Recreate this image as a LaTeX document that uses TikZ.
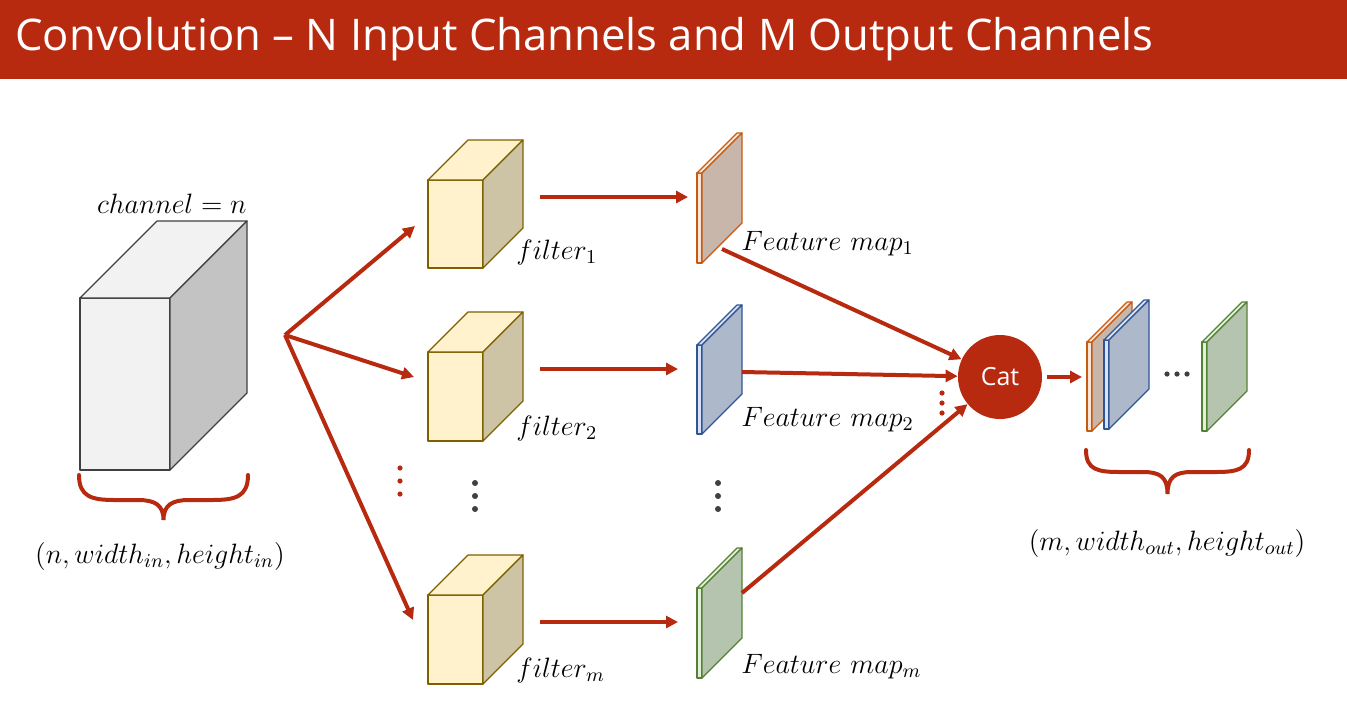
\documentclass[tikz,border=0pt]{standalone}
\usepackage{fix-cm}
\usepackage{fontspec}
\newfontfamily\titlefont{Open Sans}
\usetikzlibrary{arrows.meta, fit}
\definecolor{slidered}{RGB}{183, 42, 16}
\definecolor{inkgrey}{RGB}{64, 64, 64}
\definecolor{greyfront}{RGB}{242, 242, 242}
\definecolor{greyside}{RGB}{195, 195, 195}
\definecolor{filterfront}{RGB}{255, 242, 204}
\definecolor{filterside}{RGB}{205, 195, 165}
\definecolor{filterline}{RGB}{127, 96, 0}
\definecolor{orangefront}{RGB}{251, 229, 214}
\definecolor{orangeside}{RGB}{201, 182, 170}
\definecolor{orangeline}{RGB}{197, 90, 17}
\definecolor{bluefront}{RGB}{218, 227, 243}
\definecolor{blueside}{RGB}{173, 184, 202}
\definecolor{blueline}{RGB}{47, 85, 151}
\definecolor{greenfront}{RGB}{226, 240, 217}
\definecolor{greenside}{RGB}{181, 196, 174}
\definecolor{greenline}{RGB}{84, 130, 53}
\definecolor{dotgrey}{RGB}{64, 64, 64}

% #1 name, #2 x, #3 y (front top left), #4 width, #5 height, #6 depth,
% #7 front/top colour, #8 side colour, #9 line colour
\newcommand{\cuboid}[9]{%
  \draw[draw=#9, fill=#7, line width=0.6pt, line join=round]
    (#2,#3) rectangle ++(#4,#5);
  \draw[draw=#9, fill=#7, line width=0.6pt, line join=round]
    (#2,#3) -- ++(#6,-#6) -- ++(#4,0) -- ++(-#6,#6) -- cycle;
  \draw[draw=#9, fill=#8, line width=0.6pt, line join=round]
    (#2+#4,#3) -- ++(#6,-#6) -- ++(0,#5) -- ++(-#6,#6) -- cycle;
  \node[inner sep=0, fit={(#2,#3-#6) (#2+#4+#6,#3+#5)}] (#1) {};
}

\begin{document}
\begin{tikzpicture}[
    x=0.5pt, y=-0.5pt,
    arrow/.style={-{Triangle[length=6pt, width=6pt]}, line width=2pt, draw=slidered},
    brace/.style={line width=2pt, draw=slidered, line cap=round},
    mathlabel/.style={inner sep=0, font=\fontsize{14}{17}\selectfont},
    cat/.style={circle, fill=slidered, minimum size=42pt, inner sep=0, text=white, font=\titlefont\fontsize{12.5}{15}\selectfont},
    reddot/.style={circle, fill=slidered, inner sep=0, minimum size=2.6pt},
    greydot/.style={circle, fill=dotgrey, inner sep=0, minimum size=3pt}
]
    \useasboundingbox (0,0) rectangle (1347,708);

    % Title bar
    \fill[slidered] (0,0) rectangle (1347,79);
    \node[anchor=base west, inner sep=0, text=white, font=\titlefont\fontsize{21.8}{26}\selectfont] (title) at (15,50)
        {Convolution – N Input Channels and M Output Channels};

    % Input volume
    \cuboid{input}{80}{298}{90}{172}{77}{greyfront}{greyside}{inkgrey}
    \node[mathlabel, anchor=base east] (channels) at (247,213) {$channel = n$};
    \draw[brace] (79,475) .. controls (79,497) and (92,500) .. (115,500) -- (138,500)
        .. controls (155,500) and (163.5,505) .. (163.5,520)
        .. controls (163.5,505) and (172,500) .. (189,500) -- (212,500)
        .. controls (235,500) and (248,497) .. (248,475);
    \node[mathlabel, anchor=base] (insize) at (160,563) {$(n, width_{in}, height_{in})$};

    % Filters
    \cuboid{filter1}{428}{180}{55}{88}{40}{filterfront}{filterside}{filterline}
    \cuboid{filter2}{428}{352}{55}{89}{40}{filterfront}{filterside}{filterline}
    \cuboid{filterm}{428}{595}{55}{89}{40}{filterfront}{filterside}{filterline}
    \node[mathlabel, anchor=base west] (lab1) at (516,259) {$filter_1$};
    \node[mathlabel, anchor=base west] (lab2) at (516,435) {$filter_2$};
    \node[mathlabel, anchor=base west] (labm) at (516,677) {$filter_m$};

    % Feature maps
    \cuboid{fmap1}{697}{173}{5}{90}{40}{orangefront}{orangeside}{orangeline}
    \cuboid{fmap2}{697}{345}{5}{89}{40}{bluefront}{blueside}{blueline}
    \cuboid{fmapm}{697}{588}{5}{90}{40}{greenfront}{greenside}{greenline}
    \node[mathlabel, anchor=base west] (fmlab1) at (741,250) {$Feature\ map_1$};
    \node[mathlabel, anchor=base west] (fmlab2) at (741,426) {$Feature\ map_2$};
    \node[mathlabel, anchor=base west] (fmlabm) at (741,673) {$Feature\ map_m$};

    % Concatenation
    \node[cat] (cat) at (1000,377) {Cat};

    % Output volume
    \cuboid{out1}{1087}{342}{5}{89}{40}{orangefront}{orangeside}{orangeline}
    \cuboid{out2}{1104}{340}{5}{89}{40}{bluefront}{blueside}{blueline}
    \cuboid{outm}{1202}{342}{5}{89}{40}{greenfront}{greenside}{greenline}
    \draw[brace] (1086,450) .. controls (1086,470) and (1098,472) .. (1120,472) -- (1143,472)
        .. controls (1160,472) and (1167.5,477) .. (1167.5,494)
        .. controls (1167.5,477) and (1175,472) .. (1192,472) -- (1215,472)
        .. controls (1237,472) and (1249,470) .. (1249,450);
    \node[mathlabel, anchor=base] (outsize) at (1167,550) {$(m, width_{out}, height_{out})$};

    % Connector ends
    \coordinate (fan) at (285,335);
    \coordinate (to1) at (415,226);
    \coordinate (to2) at (414,377);
    \coordinate (tom) at (413,620);
    \coordinate (f1out) at (540,197);
    \coordinate (f2out) at (540,369);
    \coordinate (fmout) at (540,622);
    \coordinate (m1in) at (688,197);
    \coordinate (m2in) at (678,369);
    \coordinate (mmin) at (678,622);
    \coordinate (m1out) at (722,249);
    \coordinate (m2out) at (742,372);
    \coordinate (mmout) at (742,593);
    \coordinate (outin) at (1082,377);

    % Arrows
    \draw[arrow] (fan) -- (to1);
    \draw[arrow] (fan) -- (to2);
    \draw[arrow] (fan) -- (tom);
    \draw[arrow] (f1out) -- (m1in);
    \draw[arrow] (f2out) -- (m2in);
    \draw[arrow] (fmout) -- (mmin);
    \draw[arrow] (m1out) -- (cat);
    \draw[arrow] (m2out) -- (cat);
    \draw[arrow] (mmout) -- (cat);
    \draw[arrow, shorten <=2.5pt] (cat) -- (outin);

    % Dots
    \foreach \y [count=\i] in {468,481,494} {
        \node[reddot] (fandot\i) at (400,\y) {};
        \node[greydot] (filterdot\i) at (475,\y+15) {};
        \node[greydot] (fmapdot\i) at (718,\y+15) {};
    }
    \foreach \y [count=\i] in {393,403,413}
        \node[reddot] (catdot\i) at (942,\y) {};
    \foreach \x [count=\i] in {1167,1177,1187}
        \node[greydot, minimum size=2.6pt] (outdot\i) at (\x,374) {};
\end{tikzpicture}
\end{document}
